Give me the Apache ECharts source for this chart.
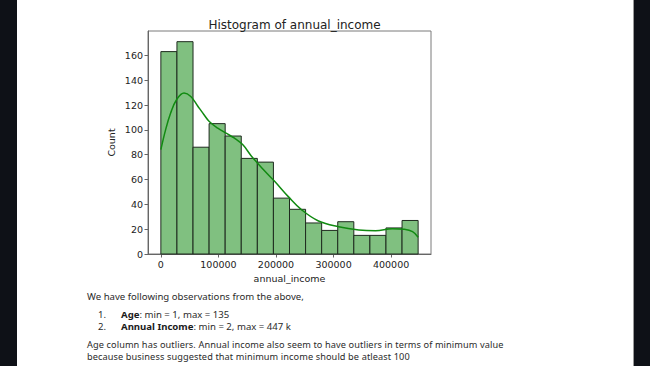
<!DOCTYPE html>
<html>
<head>
<meta charset="utf-8">
<script src="https://cdn.jsdelivr.net/npm/echarts@6/dist/echarts.min.js"></script>
<style>
  html, body { margin: 0; padding: 0; background: #ffffff; }
  #wrap { position: relative; width: 650px; height: 366px; overflow: hidden; background: #ffffff; }
  .band { position: absolute; top: 0; height: 366px; background: #0e1117; }
  #chart { position: absolute; left: 0; top: 0; width: 650px; height: 366px; }
  .txt { position: absolute; font-family: "Noto Sans", sans-serif; font-size: 9.6px; line-height: 10px; height: 10px; color: #2b2b2b; white-space: nowrap; }
  .txt.p { font-size: 9.2px; letter-spacing: 0.1px; line-height: 9px; height: 9px; }
  b { font-weight: 700; color: #1a1a1a; }
</style>
</head>
<body>
<div id="wrap">
  <div id="chart"></div>
  <div class="band" style="left:0;width:17px;"></div>
  <div class="band" style="left:633px;width:17px;border-left:1px solid #9a9a9a;"></div>
  <div class="txt" style="left:87px;top:292px;">We have following observations from the above,</div>
  <div class="txt" style="left:98px;top:310px;">1.</div>
  <div class="txt" style="left:121px;top:310px;"><b>Age</b>: min = 1, max = 135</div>
  <div class="txt" style="left:98px;top:322px;">2.</div>
  <div class="txt" style="left:121px;top:322px;"><b>Annual Income</b>: min = 2, max = 447 k</div>
  <div class="txt p" style="left:87px;top:339.8px;">Age column has outliers. Annual income also seem to have outliers in terms of minimum value</div>
  <div class="txt p" style="left:87px;top:351.5px;">because business suggested that minimum income should be atleast 100</div>
</div>
<script>
// ---- data ----
const binEdges = [2, 27939, 55877, 83814, 111752, 139689, 167626, 195564, 223501,
                  251439, 279376, 307313, 335251, 363188, 391126, 419063, 447000];
const counts = [163, 171, 86, 105, 95, 77, 74, 45, 36, 25, 19, 26, 15, 15, 21, 27];
const kdeX = [2, 8200, 17000, 27000, 40300, 52000, 63700, 75300, 84100, 98800, 113300,
              127900, 142500, 157100, 178000, 198000, 221400, 244700, 273900, 308900,
              343900, 373000, 402300, 422800, 437300, 447000];
const kdeY = [84, 100, 113.5, 124, 129.6, 126.9, 119.4, 112, 106.7, 101.3, 97.3,
              93.3, 87.9, 79, 68, 58.3, 46.2, 35.5, 26.6, 22, 19.4, 18.8, 20.4, 19.9, 18, 13.5];
const xTicks = [0, 100000, 200000, 300000, 400000];
const yTicks = [0, 20, 40, 60, 80, 100, 120, 140, 160];

const bars = counts.map((c, i) => [binEdges[i], binEdges[i + 1], c]);
const kde = kdeX.map((x, i) => [x, kdeY[i]]);

const chart = echarts.init(document.getElementById('chart'), null, { renderer: 'svg' });
const tickFont = { fontFamily: 'DejaVu Sans', fontSize: 9.5, color: '#222' };
chart.setOption({
  animation: false,
  backgroundColor: 'transparent',
  title: {
    text: 'Histogram of annual_income',
    left: 289.5, top: 14, textAlign: 'center',
    textStyle: { fontFamily: 'DejaVu Sans', fontSize: 12, fontWeight: 'normal', color: '#222' }
  },
  grid: { left: 148, top: 31, right: 219, bottom: 112, show: true, borderColor: '#7a7a7a', borderWidth: 1, backgroundColor: '#fff' },
  xAxis: {
    type: 'value', min: -22350, max: 469350,
    name: 'annual_income', nameLocation: 'middle', nameGap: 15,
    nameTextStyle: { fontFamily: 'DejaVu Sans', fontSize: 9.5, color: '#222' },
    axisLine: { show: true, onZero: false, lineStyle: { color: '#666', width: 1 } },
    axisTick: { show: true, length: 3.5, lineStyle: { color: '#666' }, customValues: xTicks },
    axisLabel: Object.assign({ customValues: xTicks, margin: 5, formatter: v => String(v) }, tickFont),
    splitLine: { show: false }
  },
  yAxis: {
    type: 'value', min: 0, max: 179.6,
    name: 'Count', nameLocation: 'middle', nameGap: 32, nameRotate: 90,
    nameTextStyle: { fontFamily: 'DejaVu Sans', fontSize: 9.5, color: '#222' },
    axisLine: { show: true, onZero: false, lineStyle: { color: '#666', width: 1 } },
    axisTick: { show: true, length: 3.5, lineStyle: { color: '#666' }, customValues: yTicks },
    axisLabel: Object.assign({ customValues: yTicks, margin: 5, formatter: v => String(v) }, tickFont),
    splitLine: { show: false }
  },
  series: [
    {
      type: 'custom',
      data: bars,
      encode: { x: [0, 1], y: 2 },
      renderItem: function (params, api) {
        const p0 = api.coord([api.value(0), 0]);
        const p1 = api.coord([api.value(1), api.value(2)]);
        return {
          type: 'rect',
          shape: { x: p0[0], y: p1[1], width: p1[0] - p0[0], height: p0[1] - p1[1] },
          style: { fill: '#80c080', stroke: '#1e2a1e', lineWidth: 1 }
        };
      },
      z: 2
    },
    {
      type: 'line',
      data: kde,
      smooth: 0.4,
      showSymbol: false,
      lineStyle: { color: '#118a11', width: 1.5 },
      z: 3
    }
  ]
});
</script>
</body>
</html>
